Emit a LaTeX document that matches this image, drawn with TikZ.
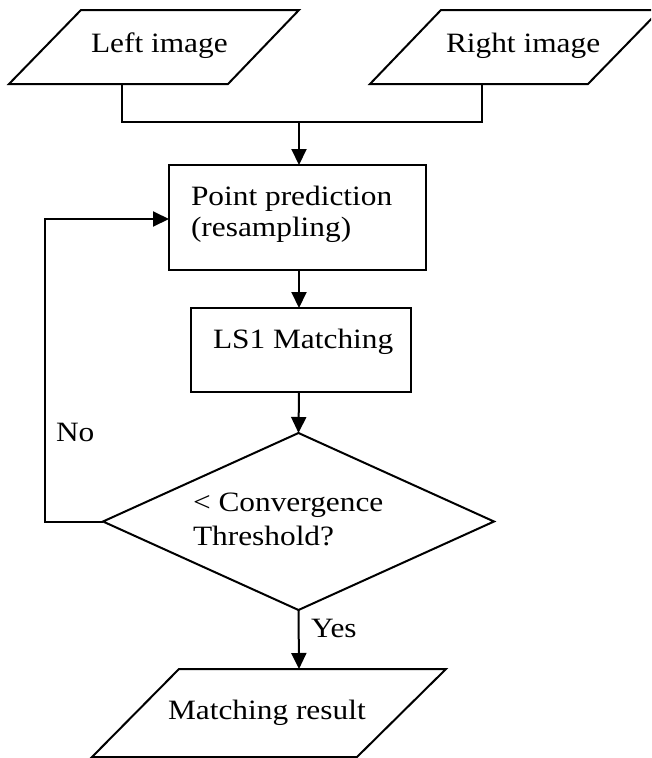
\documentclass[tikz,border=0pt]{standalone}
\usepackage{fontspec}
\setmainfont[FakeStretch=1.12]{Liberation Serif}
\usetikzlibrary{arrows.meta,shapes.geometric}
\tikzset{
  shape line/.style={draw=black, line width=2pt, line join=miter},
  boxnode/.style={shape line, rectangle, inner sep=0pt, outer sep=0pt, anchor=north west},
  conn/.style={draw=black, line width=2pt},
  arr/.style={conn, -{Triangle[length=16pt,width=15pt]}},
  txt/.style={anchor=base west, inner sep=0pt, outer sep=0pt, font=\fontsize{28}{33}\selectfont, text=black}
}
\begin{document}
\begin{tikzpicture}[x=1pt,y=-1pt]
\useasboundingbox (0,0) rectangle (651,758);
\clip (0,0) rectangle (651,758);
% input parallelograms
\draw[shape line] (81,10) -- (299,10) -- (228,84) -- (9,84) -- cycle;
\draw[shape line] (441,10) -- (660,10) -- (588,84) -- (370,84) -- cycle;
\node[txt] (tleft) at (91,52) {Left image};
\node[txt] (tright) at (446,52) {Right image};
\coordinate (lbot) at (122,84);
\coordinate (rbot) at (482,84);
\coordinate (ljoin) at (122,122);
\coordinate (rjoin) at (482,122);
\coordinate (mjoin) at (299,122);
% boxes
\node[boxnode, minimum width=257pt, minimum height=105pt] (pp) at (169,165) {};
\node[boxnode, minimum width=220pt, minimum height=84pt] (ls) at (191,308) {};
\node[txt] (tpp1) at (191,205) {Point prediction};
\node[txt] (tpp2) at (191,236) {(resampling)};
\node[txt] (tls) at (213,348) {LS1 Matching};
% decision
\node[shape line, diamond, inner sep=0pt, outer sep=0pt, minimum width=391pt, minimum height=177pt] (dec) at (298.5,521.5) {};
\node[txt] (tdec1) at (193,511) {< Convergence};
\node[txt] (tdec2) at (193,545) {Threshold?};
% output parallelogram
\draw[shape line] (179,669) -- (446,669) -- (357,757) -- (92,757) -- cycle;
\node[txt] (tres) at (168,719) {Matching result};
\coordinate (restop) at (299,669);
% labels
\node[txt] (tno) at (56,441) {No};
\node[txt] (tyes) at (311,637) {Yes};
% connectors
\draw[conn] (lbot) -- (ljoin) -- (rjoin) -- (rbot);
\draw[arr] (mjoin) -- (pp.north -| mjoin);
\draw[arr] (pp.south -| mjoin) -- (ls.north -| mjoin);
\draw[arr] (ls.south -| mjoin) -- (dec.north);
\draw[arr] (dec.south) -- (restop);
\coordinate (fbl) at (45,521.5);
\coordinate (fbt) at (45,219);
\draw[arr] (dec.west) -- (fbl) -- (fbt) -- (fbt -| pp.west);
\end{tikzpicture}
\end{document}
